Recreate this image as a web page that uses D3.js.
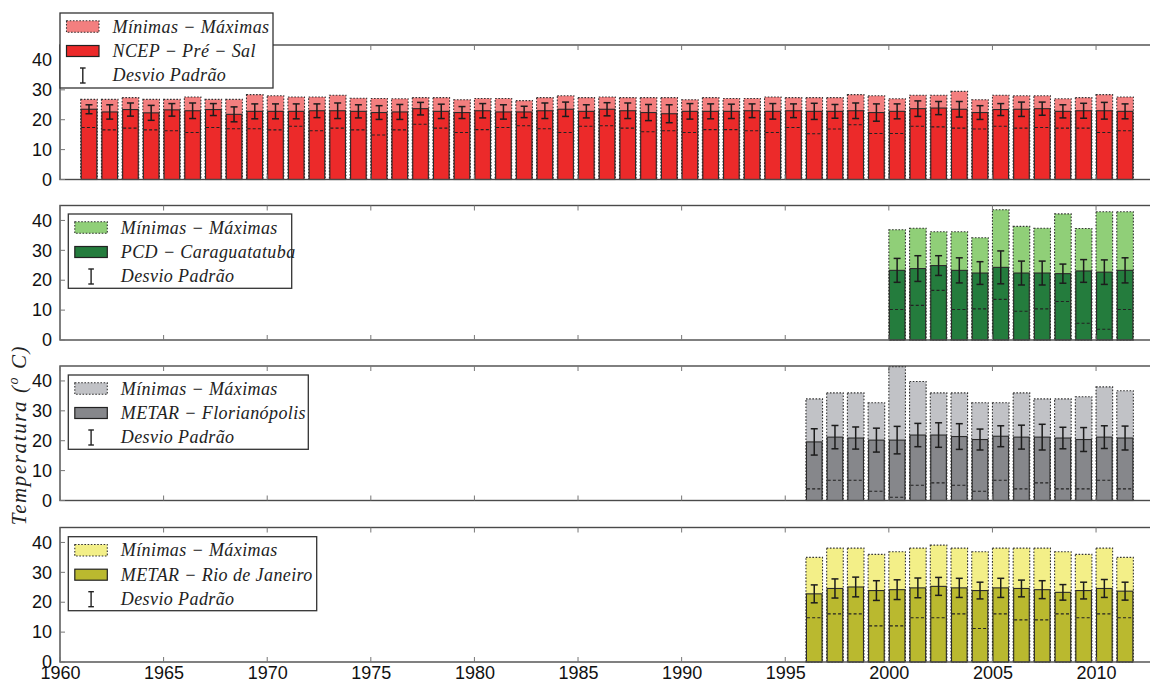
<!DOCTYPE html>
<html><head><meta charset="utf-8">
<script src="https://cdn.jsdelivr.net/npm/d3@7/dist/d3.min.js"></script>
<style>body{margin:0;background:#fff}svg{display:block}</style>
</head><body>
<svg id="c" width="1150" height="682"></svg>
<script>
// ---------------- DATA ----------------
const yearsNCEP = [1961,1962,1963,1964,1965,1966,1967,1968,1969,1970,1971,1972,1973,1974,1975,1976,1977,1978,1979,1980,1981,1982,1983,1984,1985,1986,1987,1988,1989,1990,1991,1992,1993,1994,1995,1996,1997,1998,1999,2000,2001,2002,2003,2004,2005,2006,2007,2008,2009,2010,2011];
const maxNCEP  = [26.8,26.8,27.4,26.8,26.8,27.6,26.8,26.8,28.4,28.0,27.6,27.6,28.2,27.2,27.1,27.0,27.4,27.4,26.7,27.1,27.1,26.4,27.4,28.0,27.4,27.6,27.4,27.4,27.4,26.7,27.4,27.1,27.1,27.6,27.4,27.4,27.4,28.4,28.0,27.0,28.2,28.2,29.5,26.7,28.2,28.0,28.0,27.0,27.4,28.4,27.6];
const meanNCEP = [23.5,22.6,23.4,22.3,23.3,23.0,23.4,21.8,22.8,22.8,22.8,23.0,23.0,22.8,22.4,22.6,23.7,22.8,22.4,23.0,22.6,22.6,23.0,23.5,22.8,23.5,23.0,22.4,22.0,22.8,22.8,22.8,23.0,22.8,23.0,22.8,22.8,23.0,22.4,22.8,23.7,23.9,23.5,22.4,23.4,23.5,23.7,22.8,23.0,23.0,22.8];
const minNCEP  = [17.4,16.6,17.2,16.6,16.3,15.7,17.4,17.0,17.0,16.6,17.8,16.3,17.2,16.6,14.9,16.6,18.5,17.2,15.7,16.7,17.4,18.0,17.0,15.7,17.8,18.0,17.2,16.0,16.3,15.7,16.7,16.7,16.3,15.7,17.4,15.3,16.9,18.3,15.4,15.4,17.8,17.6,17.2,16.9,17.8,17.2,17.4,17.2,17.2,15.7,16.3];
const stdNCEP  = [1.5,2.4,2.2,2.5,2.1,2.6,2.0,2.5,2.5,2.5,2.5,2.3,2.6,2.2,2.3,2.5,2.1,2.4,2.0,2.4,2.4,1.9,2.6,2.4,2.2,2.2,2.6,2.7,3.0,2.6,2.5,2.4,2.3,2.6,2.3,2.7,2.3,2.6,2.9,2.5,2.6,2.2,2.6,2.3,2.0,2.4,2.2,2.2,2.5,2.8,2.5];

const yearsPCD = [2000,2001,2002,2003,2004,2005,2006,2007,2008,2009,2010,2011];
const maxPCD   = [36.9,37.4,36.2,36.2,34.2,43.6,38.0,37.4,42.2,37.3,42.9,42.9];
const meanPCD  = [23.3,23.9,24.9,23.3,22.4,24.3,22.4,22.4,22.2,23.1,22.7,23.3];
const minPCD   = [10.2,11.6,16.6,10.2,10.4,13.6,9.6,10.4,12.9,5.6,3.6,10.2];
const stdPCD   = [4.0,4.3,3.3,4.2,3.8,5.5,4.0,4.0,3.2,3.8,4.1,4.2];

const yearsFLN = [1996,1997,1998,1999,2000,2001,2002,2003,2004,2005,2006,2007,2008,2009,2010,2011];
const maxFLN   = [34.0,36.0,36.0,32.7,44.8,39.8,36.0,36.0,32.7,32.7,36.0,34.0,34.0,34.7,38.0,36.7];
const meanFLN  = [19.6,21.2,20.9,20.2,20.2,21.9,21.9,21.4,20.4,21.5,21.2,21.2,20.9,20.4,21.2,20.9];
const minFLN   = [3.9,6.8,6.8,3.1,1.1,5.1,5.9,5.1,3.1,6.8,3.9,5.9,3.9,3.9,6.8,3.9];
const stdFLN   = [4.4,3.9,3.7,4.0,4.6,3.9,4.1,4.3,3.5,3.5,4.0,4.3,3.6,4.0,3.8,4.0];

const yearsRIO = [1996,1997,1998,1999,2000,2001,2002,2003,2004,2005,2006,2007,2008,2009,2010,2011];
const maxRIO   = [35.0,38.1,38.1,36.0,36.9,38.1,39.1,38.1,36.9,38.1,38.1,38.1,36.9,36.0,38.1,35.0];
const meanRIO  = [22.8,24.6,25.1,23.9,24.2,24.8,25.3,24.8,23.9,24.8,24.6,24.2,23.3,23.9,24.6,23.7];
const minRIO   = [14.8,16.1,16.1,12.1,12.1,14.8,14.8,16.1,11.2,16.1,14.1,14.1,16.1,14.8,16.1,14.8];
const stdRIO   = [3.0,3.2,3.3,3.3,3.3,3.3,3.0,3.2,2.8,3.2,2.8,3.0,2.6,2.8,3.0,3.0];

const xTicks = [1960,1965,1970,1975,1980,1985,1990,1995,2000,2005,2010];
const yTicks = [0,10,20,30,40];
const legendRange = "Mínimas − Máximas";
const legendStd = "Desvio Padrão";
const stationNames = ["NCEP − Pré − Sal","PCD − Caraguatatuba","METAR − Florianópolis","METAR − Rio de Janeiro"];
const yLabel = "Temperatura (";

// ---------------- LAYOUT ----------------
const svg = d3.select("#c");
const left = 60, right = 1152;
const x = d3.scaleLinear().domain([1960, 2012.7]).range([left, right]);
const panelH = 134.5;
const panels = [
  {top:45,  years:yearsNCEP, max:maxNCEP, mean:meanNCEP, min:minNCEP, std:stdNCEP, dark:"#ec2a2a", light:"#f37f7f", name:stationNames[0], leg:[60,13,213,75]},
  {top:205.5,years:yearsPCD, max:maxPCD, mean:meanPCD, min:minPCD, std:stdPCD, dark:"#247c3d", light:"#90cf78", name:stationNames[1], leg:[68.3,214,223.4,74.3]},
  {top:366, years:yearsFLN, max:maxFLN, mean:meanFLN, min:minFLN, std:stdFLN, dark:"#86878b", light:"#c1c2c6", name:stationNames[2], leg:[68.3,375,240,74.3]},
  {top:527.5,years:yearsRIO, max:maxRIO, mean:meanRIO, min:minRIO, std:stdRIO, dark:"#bab92f", light:"#f3ef88", name:stationNames[3], leg:[68.3,536.7,248.4,74]}
];
const bw = x(1960.8) - x(1960);
const serif = "'Liberation Serif','DejaVu Serif',serif";
const sans = "'Liberation Sans',Arial,sans-serif";

panels.forEach((p, pi) => {
  const y = d3.scaleLinear().domain([0,45]).range([p.top + panelH, p.top]);
  const g = svg.append("g");
  const data = p.years.map((yr,i)=>({yr, max:p.max[i], mean:p.mean[i], min:p.min[i], std:p.std[i]}));
  const cx = d => x(d.yr + 0.4);

  // light bars (0 -> max)
  g.selectAll(".lb").data(data).join("rect")
    .attr("x", d=>cx(d)-bw/2).attr("width", bw)
    .attr("y", d=>y(d.max)).attr("height", d=>y(0)-y(d.max))
    .attr("fill", p.light).attr("stroke","#333").attr("stroke-width",1.1).attr("stroke-dasharray","1.6,1.6");
  // dark bars (0 -> mean)
  g.selectAll(".db").data(data).join("rect")
    .attr("x", d=>cx(d)-bw/2+0.5).attr("width", bw-1)
    .attr("y", d=>y(d.mean)).attr("height", d=>y(0)-y(d.mean))
    .attr("fill", p.dark).attr("stroke","#2b2b2b").attr("stroke-width",1.1);
  // min dashed line
  g.selectAll(".mn").data(data).join("line")
    .attr("x1", d=>cx(d)-bw/2+1).attr("x2", d=>cx(d)+bw/2-1)
    .attr("y1", d=>y(d.min)).attr("y2", d=>y(d.min))
    .attr("stroke","#222").attr("stroke-width",1.1).attr("stroke-dasharray","3,2.2");
  // error bars
  const eb = g.selectAll(".eb").data(data).join("g").attr("stroke","#1c1c1c").attr("stroke-width",1.5);
  eb.append("line").attr("x1",cx).attr("x2",cx).attr("y1",d=>y(d.mean+d.std)).attr("y2",d=>y(d.mean-d.std));
  eb.append("line").attr("x1",d=>cx(d)-3.5).attr("x2",d=>cx(d)+3.5).attr("y1",d=>y(d.mean+d.std)).attr("y2",d=>y(d.mean+d.std));
  eb.append("line").attr("x1",d=>cx(d)-3.5).attr("x2",d=>cx(d)+3.5).attr("y1",d=>y(d.mean-d.std)).attr("y2",d=>y(d.mean-d.std));

  // frame
  g.append("rect").attr("x", left).attr("y", p.top).attr("width", right-left).attr("height", panelH)
    .attr("fill","none").attr("stroke","#4a4a4a").attr("stroke-width",1.4);
  // ticks (inward)
  xTicks.forEach(t=>{
    g.append("line").attr("x1",x(t)).attr("x2",x(t)).attr("y1",y(0)).attr("y2",y(0)-5).attr("stroke","#777").attr("stroke-width",1);
    g.append("line").attr("x1",x(t)).attr("x2",x(t)).attr("y1",p.top).attr("y2",p.top+5).attr("stroke","#777").attr("stroke-width",1);
  });
  const yAxis = d3.axisLeft(y).tickValues(yTicks).tickSize(0).tickPadding(8);
  const ya = g.append("g").attr("transform",`translate(${left},0)`).call(yAxis);
  ya.select(".domain").remove();
  ya.selectAll("text").attr("font-family",sans).attr("font-size",18).attr("fill","#111");
  yTicks.forEach(t=>{
    g.append("line").attr("x1",left).attr("x2",left+5).attr("y1",y(t)).attr("y2",y(t)).attr("stroke","#777").attr("stroke-width",1);
  });
  if (pi === panels.length-1) {
    const xAxis = d3.axisBottom(x).tickValues(xTicks).tickFormat(d3.format("d")).tickSize(0).tickPadding(4);
    const xa = g.append("g").attr("transform",`translate(0,${y(0)})`).call(xAxis);
    xa.select(".domain").remove();
    xa.selectAll("text").attr("font-family",sans).attr("font-size",18).attr("fill","#111");
  }

  // legend
  const [lx,ly,lw,lh] = p.leg;
  const lg = svg.append("g").attr("transform",`translate(${lx},${ly})`);
  lg.append("rect").attr("width",lw).attr("height",lh).attr("fill","#fff").attr("stroke","#333").attr("stroke-width",1.3);
  lg.append("rect").attr("x",6.5).attr("y",7.8).attr("width",32.5).attr("height",11.5)
    .attr("fill",p.light).attr("stroke","#333").attr("stroke-width",1.1).attr("stroke-dasharray","1.6,1.6");
  lg.append("rect").attr("x",6.5).attr("y",32.5).attr("width",32.5).attr("height",11)
    .attr("fill",p.dark).attr("stroke","#222").attr("stroke-width",1.2);
  const eg = lg.append("g").attr("stroke","#222").attr("stroke-width",1.4);
  eg.append("line").attr("x1",22.8).attr("x2",22.8).attr("y1",55).attr("y2",70);
  eg.append("line").attr("x1",20).attr("x2",25.6).attr("y1",55).attr("y2",55);
  eg.append("line").attr("x1",20).attr("x2",25.6).attr("y1",70).attr("y2",70);
  const texts = [legendRange, p.name, legendStd];
  texts.forEach((t,i)=>{
    lg.append("text").attr("x",52.5).attr("y",19.8+i*24.2)
      .attr("font-family",serif).attr("font-style","italic").attr("font-size",18)
      .attr("letter-spacing","0.4px").attr("fill","#222").text(t);
  });
});

// y label
const yl = svg.append("text").attr("transform","translate(26,435) rotate(-90)")
  .attr("text-anchor","middle").attr("font-family",serif).attr("font-style","italic")
  .attr("font-size",21).attr("letter-spacing","1.6px").attr("fill","#222");
yl.append("tspan").text(yLabel);
yl.append("tspan").attr("font-size",14).attr("dy",-8).text("o");
yl.append("tspan").attr("dy",8).text(" C)");
</script>
</body></html>
